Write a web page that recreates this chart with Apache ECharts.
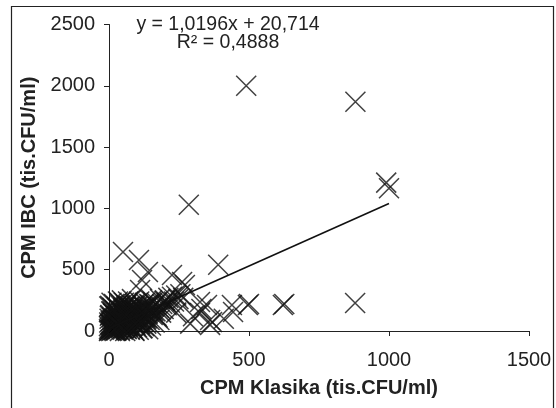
<!DOCTYPE html>
<html>
<head>
<meta charset="utf-8">
<script src="https://cdn.jsdelivr.net/npm/echarts@6/dist/echarts.min.js"></script>
<style>html,body{margin:0;padding:0;background:#fff}#c{width:556px;height:408px}</style>
</head>
<body>
<div id="c"></div>
<script>
// CPM Klasika (x) values
var klasika = [0,0,0,1,2,2,3,4,5,5,6,7,8,8,9,10,10,11,12,12,13,14,15,16,17,18,19,20,20,21,22,23,24,25,26,27,28,29,30,31,32,33,34,35,36,37,38,39,40,41,42,43,44,45,46,47,48,49,50,51,52,53,54,55,56,57,58,59,60,61,62,63,64,65,66,67,68,69,70,72,74,75,76,78,80,81,82,84,85,86,88,90,91,92,94,95,96,98,100,101,103,105,106,108,110,112,114,116,118,120,122,124,126,128,130,133,135,138,140,143,145,148,150,153,156,160,163,166,170,174,178,182,186,190,195,200,206,212,218,225,232,240,248,255,265,
3,7,12,18,24,30,36,42,48,54,60,66,72,78,84,90,96,102,108,114,120,126,132,4,14,27,38,52,63,77,88,99,111,123,136,147,158,170,185,198,1,9,19,33,44,57,69,83,94,
490,880,990,1000,285,50,107,139,118,111,225,261,271,390,350,325,439,496,500,621,626,879,443,368,361,325,157,207,361,300,330,410,290,240,180];
// CPM IBC (y) values
var ibc = [0,15,40,70,5,100,25,55,10,130,80,35,0,160,60,20,110,45,5,190,90,30,140,65,10,220,100,40,0,170,75,20,120,55,200,5,90,150,30,70,240,110,15,180,50,130,85,0,210,60,25,160,100,40,250,75,140,10,190,95,55,230,120,30,170,80,0,145,60,210,105,20,180,50,130,90,240,35,160,70,115,10,200,85,150,40,260,100,20,180,65,135,0,220,90,45,170,115,30,200,75,150,10,240,95,55,180,125,20,210,80,160,40,230,110,60,190,140,15,220,90,170,45,250,130,200,70,160,230,110,190,260,150,220,180,250,210,270,230,280,240,290,260,300,270,
125,50,160,95,5,185,115,65,20,150,100,35,200,135,80,5,175,110,55,140,25,190,95,205,145,60,230,180,15,120,205,155,70,195,105,215,165,125,175,245,200,230,10,85,30,120,45,175,60,
2000,1870,1210,1165,1030,645,579,481,416,334,456,400,375,540,212,236,212,212,220,212,220,228,155,73,90,147,236,228,50,120,180,100,60,150,90];
// Linear trend: y = 1,0196x + 20,714
var slope = 1.0196, intercept = 20.714;
var trendX = [0, 1000];
var xTicks = [0, 500, 1000, 1500];
var yTicks = [0, 500, 1000, 1500, 2000, 2500];

var pts = klasika.map(function(x, i){ return [x, ibc[i]]; });
var trend = trendX.map(function(x){ return [x, slope * x + intercept]; });

var chart = echarts.init(document.getElementById('c'));
var font = 'Liberation Sans, Arial, sans-serif';
var axisCommon = {
  axisLine: {show: true, lineStyle: {color: '#222', width: 1}},
  axisTick: {show: true, inside: false, length: 5, lineStyle: {color: '#222'}},
  splitLine: {show: false},
  nameLocation: 'middle',
  nameTextStyle: {fontFamily: font, fontSize: 20, fontWeight: 'bold', color: '#222'}
};
chart.setOption({
  animation: false,
  backgroundColor: '#fff',
  grid: {left: 109, right: 27, top: 24.5, bottom: 77, containLabel: false},
  xAxis: Object.assign({}, axisCommon, {
    type: 'value', min: 0, max: 1500, interval: 500,
    name: 'CPM Klasika (tis.CFU/ml)', nameGap: 47,
    axisLabel: {fontFamily: font, fontSize: 20, color: '#222', margin: 19,
      formatter: function(v){ return xTicks.indexOf(v) >= 0 ? String(v) : ''; }}
  }),
  yAxis: Object.assign({}, axisCommon, {
    type: 'value', min: 0, max: 2500, interval: 500,
    name: 'CPM IBC (tis.CFU/ml)', nameGap: 70, nameRotate: 90,
    axisLabel: {fontFamily: font, fontSize: 20, color: '#222', margin: 14,
      formatter: function(v){ return yTicks.indexOf(v) >= 0 ? String(v) : ''; }}
  }),
  series: [
    {
      type: 'scatter',
      data: pts,
      symbol: 'path://M0,0L10,10M10,0L0,10',
      symbolSize: 20,
      clip: false,
      itemStyle: {color: 'rgba(0,0,0,0)', borderColor: '#111', borderWidth: 1.5},
      z: 2
    },
    {
      type: 'line',
      data: trend,
      showSymbol: false,
      symbol: 'none',
      lineStyle: {color: '#111', width: 1.6},
      z: 3
    }
  ],
  graphic: [
    {type: 'rect', shape: {x: 11.5, y: 6.5, width: 542, height: 420},
     style: {fill: 'none', stroke: '#222', lineWidth: 1.2}, silent: true, z: 0},
    {type: 'text', x: 228, y: 24.5, style: {text: 'y = 1,0196x + 20,714', font: '19.5px ' + font,
      fill: '#222', textAlign: 'center', textVerticalAlign: 'middle'}, z: 10},
    {type: 'text', x: 228, y: 42.5, style: {text: 'R² = 0,4888', font: '19.5px ' + font,
      fill: '#222', textAlign: 'center', textVerticalAlign: 'middle'}, z: 10}
  ]
});
</script>
</body>
</html>
